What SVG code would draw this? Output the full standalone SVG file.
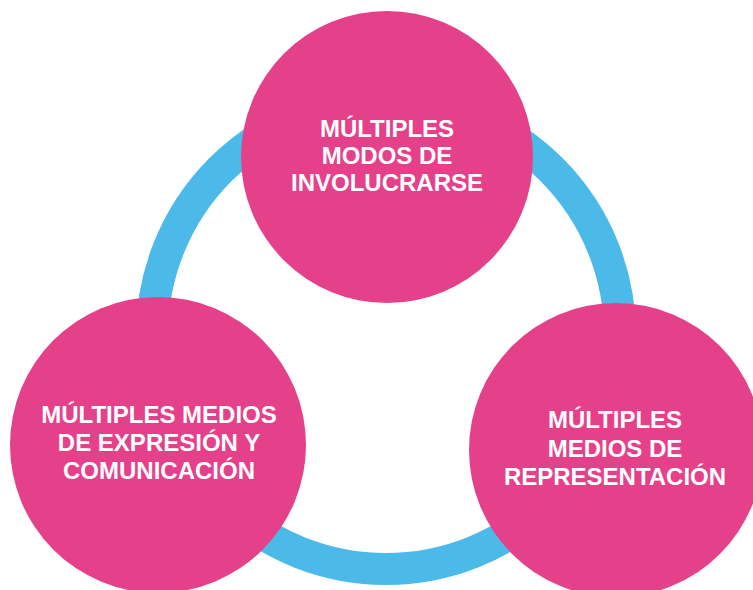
<svg xmlns="http://www.w3.org/2000/svg" width="753" height="590" viewBox="0 0 753 590">
  <style>
    .node { fill: #E5408A; }
    .ring { fill: none; stroke: #4CBAE8; stroke-width: 32; }
    .lbl { font-family: "Liberation Sans", Arial, sans-serif; font-weight: 700; font-size: 24px; fill: #FFFFFF; text-anchor: middle; }
  </style>
  <rect width="753" height="590" fill="#FFFFFF"/>
  <g id="connectors">
    <circle class="ring" cx="386" cy="335" r="234"/>
  </g>
  <g id="node-involucrarse">
    <circle class="node" cx="387" cy="157" r="146"/>
    <text class="lbl" x="387" y="137">MÚLTIPLES</text>
    <text class="lbl" x="387" y="164">MODOS DE</text>
    <text class="lbl" x="387" y="191">INVOLUCRARSE</text>
  </g>
  <g id="node-expresion">
    <circle class="node" cx="158" cy="445" r="148"/>
    <text class="lbl" x="159" y="423">MÚLTIPLES MEDIOS</text>
    <text class="lbl" x="159" y="451">DE EXPRESIÓN Y</text>
    <text class="lbl" x="159" y="479">COMUNICACIÓN</text>
  </g>
  <g id="node-representacion">
    <circle class="node" cx="616" cy="450" r="147"/>
    <text class="lbl" x="615" y="428">MÚLTIPLES</text>
    <text class="lbl" x="615" y="457">MEDIOS DE</text>
    <text class="lbl" x="615" y="485">REPRESENTACIÓN</text>
  </g>
</svg>
